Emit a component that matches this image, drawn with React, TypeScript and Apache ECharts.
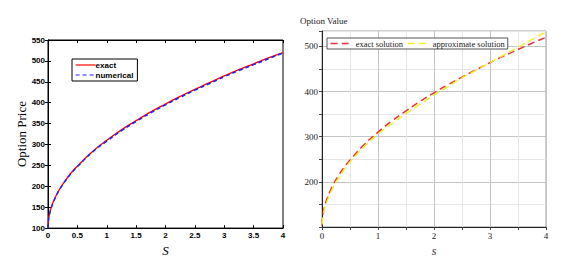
import React, { useEffect, useRef } from "react";
import * as echarts from "echarts";

const sValues = [0, 0.01, 0.02, 0.05, 0.1, 0.15, 0.2, 0.3, 0.4, 0.5, 0.75, 1, 1.25, 1.5, 1.75, 2, 2.25, 2.5, 2.75, 3, 3.25, 3.5, 3.75, 4];
const exactLeft = [100, 121, 130, 147, 166, 181, 194, 215, 233, 248, 282, 310, 335, 357, 378, 397, 415, 432, 448, 464, 479, 493, 507, 520];
const numericalLeft = [100, 120, 129, 146, 165, 180, 193, 214, 232, 247, 281, 308, 333, 355, 376, 395, 413, 430, 446, 462, 477, 491, 505, 519];
const exactRight = [104, 121, 130, 147, 166, 181, 194, 215, 233, 248, 282, 310, 335, 357, 378, 397, 415, 432, 448, 464, 479, 493, 507, 520];
const approxRight = [106, 116, 125, 142, 160, 175, 188, 209, 228, 244, 277, 305, 329, 351, 372, 392, 411, 430, 447, 464, 481, 498, 515, 532];

const leftXTicks = 0.5;
const leftYMin = 100;
const leftYMax = 550;
const rightYMin = 100;
const rightYMax = 534;

const pairs = (ys: number[]) => sValues.map((s, i) => [s, ys[i]]);

export default function App() {
  const ref = useRef<HTMLDivElement>(null);
  useEffect(() => {
    const chart = echarts.init(ref.current!, undefined, { renderer: "svg" });
    const sans = "Liberation Sans";
    const serif = "Liberation Serif";
    chart.setOption({
      animation: false,
      backgroundColor: "#ffffff",
      grid: [
        { left: 48, top: 40, width: 235, height: 195, show: true, borderColor: "#000", borderWidth: 1, backgroundColor: "transparent" },
        { left: 322, top: 31, width: 224, height: 199, show: true, borderColor: "#9a9a9a", borderWidth: 1, backgroundColor: "transparent" },
      ],
      xAxis: [
        {
          gridIndex: 0, type: "value", min: 0, max: 4, interval: leftXTicks, position: "bottom",
          name: "S", nameLocation: "middle", nameGap: 12,
          nameTextStyle: { fontFamily: serif, fontStyle: "italic", fontSize: 13, color: "#000" },
          axisLine: { lineStyle: { color: "#000" } },
          axisTick: { inside: true, length: 3, lineStyle: { color: "#000" } },
          axisLabel: { fontFamily: sans, fontSize: 8, fontWeight: "bold", color: "#000", margin: 3 },
          splitLine: { show: false },
        },
        {
          gridIndex: 0, type: "value", min: 0, max: 4, interval: leftXTicks, position: "top",
          axisLine: { lineStyle: { color: "#000" } },
          axisTick: { inside: true, length: 3, lineStyle: { color: "#000" } },
          axisLabel: { show: false }, splitLine: { show: false },
        },
        {
          gridIndex: 1, type: "value", min: 0, max: 4, interval: 0.5,
          name: "s", nameLocation: "middle", nameGap: 18,
          nameTextStyle: { fontFamily: serif, fontStyle: "italic", fontSize: 12, color: "#333" },
          axisLine: { lineStyle: { color: "#222" } },
          axisTick: { length: 3, lineStyle: { color: "#444" } },
          axisLabel: {
            fontFamily: serif, fontSize: 9, color: "#222", margin: 4,
            formatter: (v: number) => (Number.isInteger(v) ? String(v) : ""),
          },
          splitLine: { show: true, lineStyle: { color: ["#c4c4c4", "#e6e6e6"], width: 1 } },
        },
      ],
      yAxis: [
        {
          gridIndex: 0, type: "value", min: leftYMin, max: leftYMax, interval: 50, position: "left",
          name: "Option Price", nameLocation: "middle", nameGap: 16,
          nameTextStyle: { fontFamily: serif, fontSize: 13, color: "#000" },
          axisLine: { lineStyle: { color: "#000" } },
          axisTick: { inside: true, length: 3, lineStyle: { color: "#000" } },
          axisLabel: { fontFamily: sans, fontSize: 8, fontWeight: "bold", color: "#000", margin: 3 },
          splitLine: { show: false },
        },
        {
          gridIndex: 0, type: "value", min: leftYMin, max: leftYMax, interval: 50, position: "right",
          axisLine: { lineStyle: { color: "#000" } },
          axisTick: { inside: true, length: 3, lineStyle: { color: "#000" } },
          axisLabel: { show: false }, splitLine: { show: false },
        },
        {
          gridIndex: 1, type: "value", min: rightYMin, max: rightYMax, interval: 50,
          axisLine: { show: true, lineStyle: { color: "#222" } },
          axisTick: { show: true, length: 3, lineStyle: { color: "#444" } },
          axisLabel: {
            fontFamily: serif, fontSize: 9, color: "#222", margin: 4,
            formatter: (v: number) => (v % 100 === 0 && v > 100 ? String(v) : ""),
          },
          splitLine: { show: true, lineStyle: { color: ["#c4c4c4", "#e6e6e6"], width: 1 } },
        },
      ],
      legend: [
        {
          data: ["exact", "numerical"], orient: "vertical", left: 72, top: 59,
          padding: [2, 4, 2, 3], itemGap: 2, itemWidth: 20, itemHeight: 8,
          borderColor: "#000", borderWidth: 1, backgroundColor: "#fff",
          itemStyle: { opacity: 0 },
          lineStyle: { width: 1.2 },
          textStyle: { fontFamily: sans, fontSize: 8, fontWeight: "bold", color: "#000", padding: [0, 0, 0, -5] },
        },
        {
          data: ["exact solution", "approximate solution"], orient: "horizontal", left: 327, top: 38,
          padding: [1, 3, 1, 3], itemGap: 4, itemWidth: 22, itemHeight: 8,
          borderColor: "#555", borderWidth: 1, backgroundColor: "#fff",
          itemStyle: { opacity: 0 },
          lineStyle: { width: 1.3 },
          textStyle: { fontFamily: serif, fontSize: 8.5, color: "#222", padding: [0, 0, 0, -2] },
        },
      ],
      graphic: [
        { type: "text", left: 300, top: 16, style: { text: "Option Value", fontFamily: serif, fontSize: 9, fill: "#222" } },
      ],
      series: [
        {
          name: "exact", type: "line", xAxisIndex: 0, yAxisIndex: 0, data: pairs(exactLeft),
          showSymbol: false, symbol: "none", smooth: true, color: "#ff0000",
          lineStyle: { color: "#ff0000", width: 1.3, type: "solid" },
        },
        {
          name: "numerical", type: "line", xAxisIndex: 0, yAxisIndex: 0, data: pairs(numericalLeft),
          showSymbol: false, symbol: "none", smooth: true, color: "#2020ff",
          lineStyle: { color: "#2020ff", width: 1.5, type: [4, 3] },
        },
        {
          name: "exact solution", type: "line", xAxisIndex: 2, yAxisIndex: 2, data: pairs(exactRight),
          showSymbol: false, symbol: "none", smooth: true, color: "#e8333c",
          lineStyle: { color: "#e8333c", width: 1.5, type: [7, 4] },
        },
        {
          name: "approximate solution", type: "line", xAxisIndex: 2, yAxisIndex: 2, data: pairs(approxRight),
          showSymbol: false, symbol: "none", smooth: true, color: "#f5ee2a",
          lineStyle: { color: "#f5ee2a", width: 1.5, type: [7, 4] },
        },
      ],
    });
    return () => chart.dispose();
  }, []);
  return <div ref={ref} style={{ position: "absolute", left: 0, top: 0, width: 587, height: 262 }} />;
}
